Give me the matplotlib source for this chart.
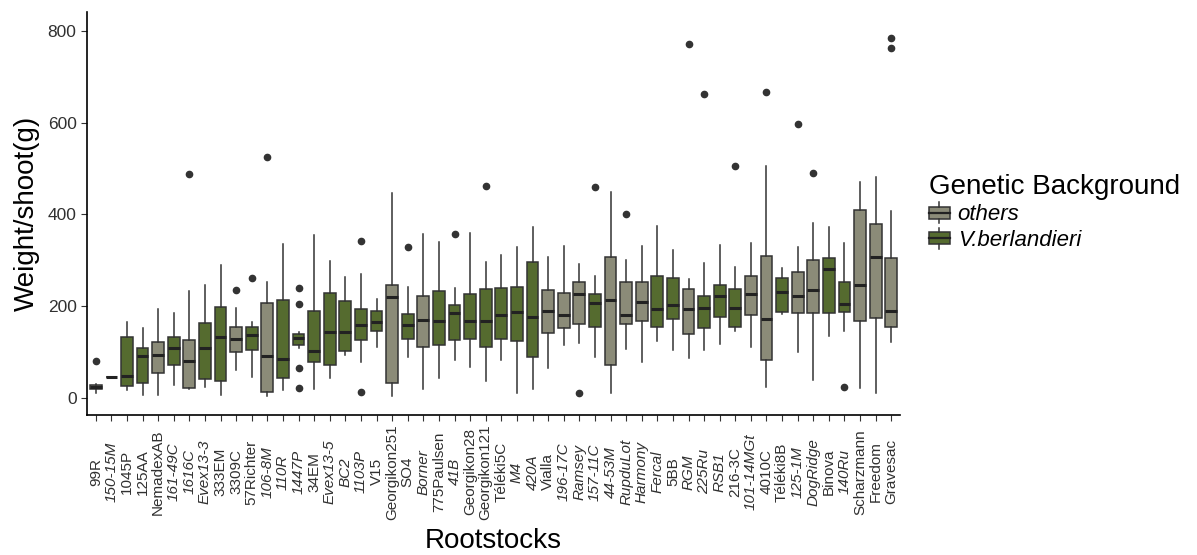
import matplotlib
matplotlib.use("Agg")
import matplotlib.pyplot as plt
from matplotlib.patches import Rectangle, Patch
from matplotlib.lines import Line2D
from matplotlib.legend_handler import HandlerBase

plt.rcParams["font.family"] = ["Liberation Sans", "DejaVu Sans"]

rootstocks = ["99R", "150-15M", "1045P", "125AA", "NemadexAB", "161-49C", "1616C",
              "Evex13-3", "333EM", "3309C", "57Richter", "106-8M", "110R", "1447P",
              "34EM", "Evex13-5", "BC2", "1103P", "V15", "Georgikon251", "SO4", "Borner",
              "775Paulsen", "41B", "Georgikon28", "Georgikon121", "Téléki5C", "M4",
              "420A", "Vialla", "196-17C", "Ramsey", "157-11C", "44-53M", "RupduLot",
              "Harmony", "Fercal", "5BB", "RGM", "225Ru", "RSB1", "216-3C", "101-14MGt",
              "4010C", "Téléki8B", "125-1M", "DogRidge", "Binova", "140Ru", "Scharzmann",
              "Freedom", "Gravesac"]

# B = V.berlandieri, O = others
background = ["O", "O", "B", "B", "O", "B", "O", "B", "B", "O", "B", "O", "B", "B",
              "B", "B", "B", "B", "B", "O", "B", "O", "B", "B", "B", "B", "B", "B",
              "B", "O", "O", "O", "B", "O", "O", "O", "B", "B", "O", "B", "B", "B", "O",
              "O", "B", "O", "O", "B", "B", "O", "O", "O"]

whislo = [12, 46, 18, 7, 7, 30, 20, 25, 7, 62, 46, 5, 17, 109, 20, 45, 94, 78, 112, 5,
          89, 20, 45, 83, 69, 38, 83, 12, 20, 66, 116, 121, 90, 11, 108, 78, 124, 105,
          87, 105, 118, 147, 112, 25, 183, 101, 40, 136, 147, 22, 11, 123]
q1 = [20, 46, 27, 34, 54, 72, 22, 43, 38, 100, 105, 13, 45, 117, 78, 72, 102, 126, 147,
      34, 129, 111, 116, 126, 129, 111, 128, 125, 90, 143, 152, 161, 156, 73, 161, 168,
      155, 173, 140, 152, 176, 155, 182, 84, 187, 185, 185, 185, 188, 168, 174, 156]
median = [25, 46, 49, 91, 94, 110, 81, 110, 134, 130, 137, 91, 86, 132, 104, 144, 144,
          160, 165, 220, 160, 170, 168, 186, 168, 168, 182, 188, 178, 191, 182, 226, 207,
          215, 182, 210, 194, 202, 194, 197, 223, 197, 228, 173, 231, 223, 236, 282, 206,
          247, 308, 191]
q3 = [30, 46, 133, 109, 122, 133, 127, 163, 198, 155, 156, 207, 213, 141, 190, 230, 212,
      195, 190, 246, 183, 222, 233, 204, 227, 238, 240, 243, 296, 236, 230, 254, 227, 307,
      254, 254, 267, 262, 237, 223, 246, 237, 267, 310, 262, 275, 301, 305, 253, 410, 380,
      305]
whishi = [31, 46, 167, 154, 194, 186, 233, 246, 290, 197, 167, 252, 335, 145, 355, 299,
          263, 270, 216, 446, 243, 357, 341, 241, 359, 296, 312, 329, 372, 307, 331, 292,
          267, 450, 302, 331, 376, 323, 260, 294, 334, 286, 339, 505, 284, 329, 381, 372,
          337, 470, 482, 408]
outliers = [[82], [], [], [], [], [], [489], [], [], [236], [261], [526], [], [241, 206, 66, 22],
            [], [], [], [343, 13], [], [], [330], [], [], [358], [], [462], [], [], [], [],
            [], [11], [459], [], [401], [], [], [], [770], [662], [], [506], [], [667], [],
            [598], [490], [], [24], [], [], [784, 762]]

italic_labels = {"150-15M", "161-49C", "1616C", "Evex13-3", "106-8M", "110R", "1447P",
                 "Evex13-5", "BC2", "1103P", "Borner", "41B", "M4", "420A", "196-17C",
                 "Ramsey", "157-11C", "44-53M", "RupduLot", "Harmony", "Fercal", "RGM",
                 "225Ru", "RSB1", "101-14MGt", "125-1M", "DogRidge", "140Ru"}

colors = {"O": "#8b8b78", "B": "#556b2f"}
edge = "#333333"

stats = []
for i, name in enumerate(rootstocks):
    stats.append({"label": name, "whislo": whislo[i], "q1": q1[i], "med": median[i],
                  "q3": q3[i], "whishi": whishi[i], "fliers": outliers[i]})

fig = plt.figure(figsize=(11.97, 5.55), dpi=100)
ax = fig.add_axes([0.0727, 0.2523, 0.6792, 0.7261])

bp = ax.bxp(stats, positions=range(len(rootstocks)), widths=0.75, patch_artist=True,
            showcaps=False,
            boxprops=dict(edgecolor=edge, linewidth=1.1),
            whiskerprops=dict(color=edge, linewidth=1.1),
            medianprops=dict(color="#222222", linewidth=2.2),
            flierprops=dict(marker="o", markerfacecolor="#333333",
                            markeredgecolor="#333333", markersize=4.5))
for box, g in zip(bp["boxes"], background):
    box.set_facecolor(colors[g])

ax.set_xlim(-0.56, 51.56)
ax.set_ylim(-36.3, 840.7)
ax.set_yticks([0, 200, 400, 600, 800])

for s in ["top", "right"]:
    ax.spines[s].set_visible(False)
for s in ["left", "bottom"]:
    ax.spines[s].set_color("black")
    ax.spines[s].set_linewidth(1.2)

ax.tick_params(axis="y", labelsize=12.5, labelcolor="#303030", color="#333333", length=4)
ax.tick_params(axis="x", labelsize=11, labelcolor="#303030", color="#333333", length=4,
               pad=37)
ax.set_xticks(range(len(rootstocks)))
ax.set_xticklabels(rootstocks, rotation=90)
for lab in ax.get_xticklabels():
    lab.set_va("center")
    lab.set_ha("center")
    if lab.get_text() in italic_labels:
        lab.set_style("italic")

ax.set_xlabel("Rootstocks", fontsize=20, labelpad=6)
ax.set_ylabel("Weight/shoot(g)", fontsize=20, labelpad=6)


class BoxKey(HandlerBase):
    def create_artists(self, legend, orig_handle, xdescent, ydescent, width, height,
                       fontsize, trans):
        x0, y0 = -xdescent, -ydescent
        fc = orig_handle.get_facecolor()
        cx = x0 + width / 2
        rect = Rectangle((x0, y0 + 0.15 * height), width, 0.7 * height,
                         facecolor=fc, edgecolor=edge, linewidth=1.1, transform=trans)
        med = Line2D([x0, x0 + width], [y0 + 0.5 * height] * 2, color="#222222",
                     linewidth=1.6, transform=trans)
        top = Line2D([cx, cx], [y0 + 0.85 * height, y0 + 1.1 * height], color=edge,
                     linewidth=1.1, transform=trans)
        bot = Line2D([cx, cx], [y0 - 0.1 * height, y0 + 0.15 * height], color=edge,
                     linewidth=1.1, transform=trans)
        return [rect, med, top, bot]


handles = [Patch(facecolor=colors["O"]), Patch(facecolor=colors["B"])]
leg = fig.legend(handles, ["others", "V.berlandieri"], title="Genetic Background",
                 loc="upper left", bbox_to_anchor=(0.776, 0.687), frameon=False,
                 handler_map={Patch: BoxKey()}, prop=dict(size=16, style="italic"),
                 title_fontsize=20, handlelength=0.95, handleheight=0.8,
                 handletextpad=0.35, labelspacing=0.2, borderpad=0, borderaxespad=0,
                 alignment="left")

fig.savefig("out.png", dpi=100, facecolor="white")
